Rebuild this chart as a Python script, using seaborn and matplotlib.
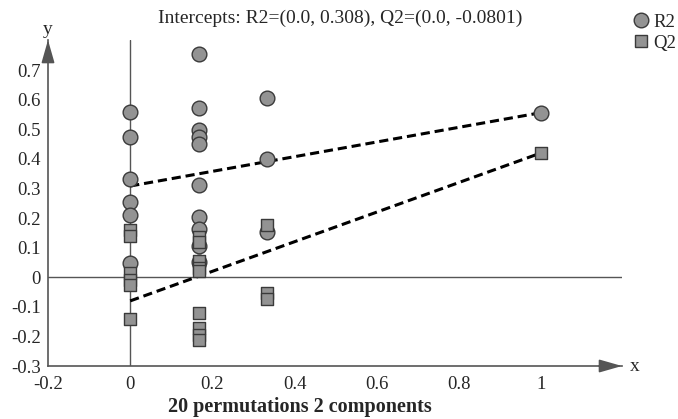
import numpy as np
import pandas as pd
import matplotlib
matplotlib.use("Agg")
import matplotlib.pyplot as plt
from matplotlib.ticker import MultipleLocator, FuncFormatter
from matplotlib.lines import Line2D
import seaborn as sns

# ---- data ----
r2_x = [0, 0, 0, 0, 0, 0,
        1/6, 1/6, 1/6, 1/6, 1/6, 1/6, 1/6, 1/6, 1/6, 1/6,
        1/3, 1/3, 1/3,
        1]
r2_y = [0.558, 0.474, 0.333, 0.254, 0.209, 0.048,
        0.753, 0.570, 0.497, 0.474, 0.449, 0.311, 0.204, 0.164, 0.104, 0.050,
        0.604, 0.399, 0.153,
        0.556]
q2_x = [0, 0, 0, 0, 0, 0,
        1/6, 1/6, 1/6, 1/6, 1/6, 1/6, 1/6, 1/6, 1/6,
        1/3, 1/3, 1/3,
        1]
q2_y = [0.160, 0.140, 0.015, -0.010, -0.027, -0.140,
        0.135, 0.120, 0.055, 0.030, -0.122, -0.172, -0.196, -0.213, 0.020,
        0.178, -0.055, -0.075,
        0.420]
r2_intercept = 0.308
q2_intercept = -0.0801
r2_end = 0.556
q2_end = 0.420
title_text = "Intercepts: R2=(0.0, 0.308), Q2=(0.0, -0.0801)"
bottom_text = "20 permutations 2 components"

sns.set_style("white")
plt.rcParams["font.family"] = ["Liberation Serif", "DejaVu Serif"]
plt.rcParams["axes.unicode_minus"] = False

fig = plt.figure(figsize=(6.78, 4.19), dpi=100)
W, H = 678, 419
x0px, x1px = 48, 622
ytop, ybot = 40, 366
ax = fig.add_axes([x0px / W, (H - ybot) / H, (x1px - x0px) / W, (ybot - ytop) / H])
xmin, xmax = -0.2, -0.2 + (x1px - x0px) / 411.0
ymin, ymax = -0.3, -0.3 + (ybot - ytop) / 296.0
ax.set_xlim(xmin, xmax)
ax.set_ylim(ymin, ymax)

axis_col = "#555555"
# reference lines through origin
ax.axhline(0, color=axis_col, lw=1.0, zorder=1)
ax.axvline(0, color=axis_col, lw=1.0, zorder=1)

# regression lines
lines = pd.DataFrame({"x": [0, 1, 0, 1],
                      "y": [r2_intercept, r2_end, q2_intercept, q2_end],
                      "s": ["R2", "R2", "Q2", "Q2"]})
for s in ["R2", "Q2"]:
    d = lines[lines.s == s]
    sns.lineplot(data=d, x="x", y="y", ax=ax, color="black", lw=2.2,
                 linestyle=(0, (3, 1.6)), zorder=2, legend=False)

fill = "#939393"
edge = "#3a3a3a"
sns.scatterplot(x=r2_x, y=r2_y, ax=ax, marker="o", s=112, color=fill,
                edgecolor=edge, linewidth=1.0, zorder=3, legend=False)
sns.scatterplot(x=q2_x, y=q2_y, ax=ax, marker="s", s=64, color=fill,
                edgecolor=edge, linewidth=1.0, zorder=4, legend=False)

# spines
for sp in ["top", "right"]:
    ax.spines[sp].set_visible(False)
for sp in ["left", "bottom"]:
    ax.spines[sp].set_color(axis_col)
    ax.spines[sp].set_linewidth(1.2)
    ax.spines[sp].set_zorder(1)

ax.xaxis.set_major_locator(MultipleLocator(0.2))
ax.xaxis.set_minor_locator(MultipleLocator(0.1))
ax.yaxis.set_major_locator(MultipleLocator(0.1))
ax.yaxis.set_minor_locator(MultipleLocator(0.05))
fmt = FuncFormatter(lambda v, p: "0" if abs(v) < 1e-9 else ("%g" % round(v, 2)))
ax.xaxis.set_major_formatter(fmt)
ax.yaxis.set_major_formatter(fmt)
ax.tick_params(axis="both", which="major", direction="in", length=5, width=1.0,
               color=axis_col, labelsize=13.5)
ax.tick_params(axis="x", which="major", pad=7)
ax.tick_params(axis="y", which="major", pad=5)
ax.tick_params(axis="both", which="minor", direction="in", length=3, width=1.0,
               color=axis_col)
ax.set_xticks([t for t in np.arange(-0.2, 1.01, 0.2)])
ax.set_yticks([t for t in np.arange(-0.3, 0.71, 0.1)])
ax.set_xlabel("")
ax.set_ylabel("")

# arrows
ax.annotate("", xy=(1.0, 0), xytext=(0.96, 0), xycoords="axes fraction",
            arrowprops=dict(arrowstyle="-|>,head_length=1.4,head_width=0.4",
                            color=axis_col, lw=1.2, shrinkA=0, shrinkB=0))
ax.annotate("", xy=(0, 1.0), xytext=(0, 0.95), xycoords="axes fraction",
            arrowprops=dict(arrowstyle="-|>,head_length=1.4,head_width=0.4",
                            color=axis_col, lw=1.2, shrinkA=0, shrinkB=0))
fig.text(630 / W, 1 - 366 / H, "x", fontsize=14, va="center", ha="left")
fig.text(48 / W, 1 - 30 / H, "y", fontsize=14, va="center", ha="center")

fig.text(340 / W, 1 - 18 / H, title_text, fontsize=14, ha="center", va="center")
fig.text(300 / W, 1 - 407 / H, bottom_text, fontsize=14.5, fontweight="bold",
         ha="center", va="center")

handles = [Line2D([], [], marker="o", ls="", markersize=10.5, markerfacecolor=fill,
                  markeredgecolor=edge, markeredgewidth=1.0),
           Line2D([], [], marker="s", ls="", markersize=8, markerfacecolor=fill,
                  markeredgecolor=edge, markeredgewidth=1.0)]
fig.legend(handles, ["R2", "Q2"], loc="upper left", bbox_to_anchor=(628 / W, 1 - 10 / H),
           frameon=False, fontsize=13.5, handletextpad=0.15, labelspacing=0.2,
           handlelength=1.0, borderpad=0.2, borderaxespad=0)

fig.savefig("out.png", dpi=100)
